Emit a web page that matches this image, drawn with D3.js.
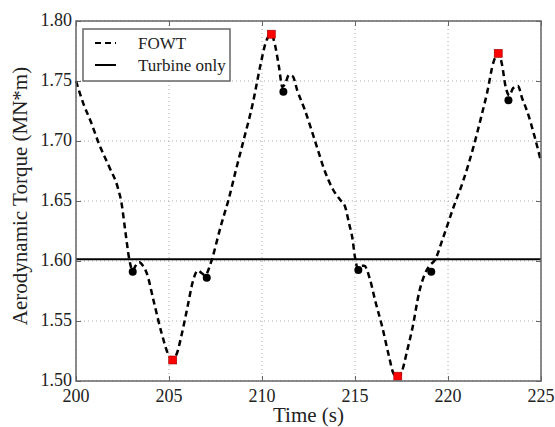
<!DOCTYPE html>
<html>
<head>
<meta charset="utf-8">
<script src="https://d3js.org/d3.v7.min.js"></script>
<style>
  body { margin: 0; background: #fff; }
  svg { display: block; }
</style>
</head>
<body>
<div id="chart"></div>
<script>
// FOWT aerodynamic torque
const time = [200.0, 200.4, 200.8, 201.25, 201.8, 202.25, 202.45, 202.65, 202.87, 203.05, 203.2, 203.4, 203.6, 203.8,
  204.2, 204.6, 205.0, 205.2, 205.4, 205.7, 206.0, 206.3, 206.55, 206.75, 206.95, 207.15, 207.3, 207.8,
  208.2, 208.6, 209.0, 209.5, 209.9, 210.2, 210.5, 210.7, 210.9, 211.1, 211.25, 211.45, 211.65, 211.9,
  212.3, 212.85, 213.4, 213.8, 214.2, 214.45, 214.7, 214.85, 215.0, 215.15, 215.35, 215.5, 215.8, 216.1,
  216.45, 216.85, 217.05, 217.3, 217.5, 217.8, 218.1, 218.45, 218.75, 219.0, 219.3, 219.75, 220.3, 220.8,
  221.35, 221.8, 222.1, 222.45, 222.7, 222.9, 223.1, 223.3, 223.5, 223.75, 224.0, 224.25, 224.65, 225.0];
const torque = [1.750, 1.731, 1.716, 1.697, 1.678, 1.661, 1.648, 1.625, 1.601, 1.592, 1.596, 1.599, 1.596, 1.590,
  1.565, 1.540, 1.521, 1.518, 1.522, 1.540, 1.562, 1.584, 1.592, 1.590, 1.588, 1.594, 1.601, 1.630,
  1.651, 1.676, 1.700, 1.731, 1.762, 1.782, 1.789, 1.780, 1.763, 1.745, 1.748, 1.755, 1.754, 1.742,
  1.726, 1.700, 1.674, 1.660, 1.651, 1.646, 1.630, 1.620, 1.603, 1.594, 1.596, 1.596, 1.585, 1.566,
  1.546, 1.519, 1.507, 1.503, 1.507, 1.525, 1.545, 1.574, 1.589, 1.596, 1.601, 1.620, 1.645, 1.666,
  1.694, 1.721, 1.740, 1.766, 1.773, 1.764, 1.745, 1.738, 1.744, 1.746, 1.735, 1.725, 1.704, 1.683];

// turbine only (constant)
const turbineOnly = 1.6015;

// extremes (red squares) and crossing points (black dots)
const peakTime = [205.2, 210.5, 217.3, 222.7];
const peakValue = [1.5175, 1.789, 1.504, 1.773];
const dotTime = [203.05, 207.03, 211.15, 215.18, 219.1, 223.25];
const dotValue = [1.591, 1.586, 1.741, 1.5925, 1.591, 1.734];

const xTicks = [200, 205, 210, 215, 220, 225];
const yTicks = [1.50, 1.55, 1.60, 1.65, 1.70, 1.75, 1.80];

const legendNames = ["FOWT", "Turbine only"];

const width = 555;
const height = 427;
const margin = { top: 21, right: 14, bottom: 46, left: 76 };
const serif = "'Liberation Serif', 'Times New Roman', Times, Tinos, 'DejaVu Serif', 'Noto Serif', serif";

const svg = d3.select("#chart")
    .append("svg")
    .attr("width", width)
    .attr("height", height)
    .attr("font-family", serif);

const x = d3.scaleLinear()
    .domain([200, 225])
    .range([margin.left, width - margin.right]);

const y = d3.scaleLinear()
    .domain([1.50, 1.80])
    .range([height - margin.bottom, margin.top]);

// grid
svg.append("g")
    .selectAll("line")
    .data(xTicks)
    .enter()
    .append("line")
    .attr("x1", d => x(d)).attr("x2", d => x(d))
    .attr("y1", margin.top).attr("y2", height - margin.bottom)
    .attr("stroke", "#aaa").attr("stroke-width", 1).attr("stroke-dasharray", "1,3");

svg.append("g")
    .selectAll("line")
    .data(yTicks)
    .enter()
    .append("line")
    .attr("x1", margin.left).attr("x2", width - margin.right)
    .attr("y1", d => y(d)).attr("y2", d => y(d))
    .attr("stroke", "#aaa").attr("stroke-width", 1).attr("stroke-dasharray", "1,3");

// axes with inward ticks
const axisColor = "#666";
const bottomAxis = svg.append("g")
    .attr("transform", `translate(0,${height - margin.bottom})`)
    .call(d3.axisTop(x).tickValues(xTicks).tickSize(5).tickFormat(""));
const topAxis = svg.append("g")
    .attr("transform", `translate(0,${margin.top})`)
    .call(d3.axisBottom(x).tickValues(xTicks).tickSize(5).tickFormat(""));
const leftAxis = svg.append("g")
    .attr("transform", `translate(${margin.left},0)`)
    .call(d3.axisRight(y).tickValues(yTicks).tickSize(5).tickFormat(""));
const rightAxis = svg.append("g")
    .attr("transform", `translate(${width - margin.right},0)`)
    .call(d3.axisLeft(y).tickValues(yTicks).tickSize(5).tickFormat(""));
[bottomAxis, topAxis, leftAxis, rightAxis].forEach(g => {
    g.select(".domain").remove();
    g.selectAll("line").attr("stroke", axisColor);
});

// tick labels
svg.append("g")
    .selectAll("text")
    .data(xTicks)
    .enter()
    .append("text")
    .attr("x", d => x(d))
    .attr("y", height - margin.bottom + 21)
    .attr("text-anchor", "middle")
    .attr("font-size", 18)
    .attr("fill", "#222")
    .text(d => d);

svg.append("g")
    .selectAll("text")
    .data(yTicks)
    .enter()
    .append("text")
    .attr("x", margin.left - 4)
    .attr("y", d => y(d) + 5)
    .attr("text-anchor", "end")
    .attr("font-size", 18)
    .attr("fill", "#222")
    .text(d => d.toFixed(2));

// turbine only line
svg.append("line")
    .attr("x1", margin.left).attr("x2", width - margin.right)
    .attr("y1", y(turbineOnly)).attr("y2", y(turbineOnly))
    .attr("stroke", "#000").attr("stroke-width", 2);

// FOWT line
const fowt = time.map((t, i) => ({ t: t, v: torque[i] }));
const line = d3.line()
    .x(d => x(d.t))
    .y(d => y(d.v))
    .curve(d3.curveMonotoneX);

svg.append("path")
    .datum(fowt)
    .attr("d", line)
    .attr("fill", "none")
    .attr("stroke", "#000")
    .attr("stroke-width", 2.5)
    .attr("stroke-dasharray", "6,4");

// markers
svg.append("g")
    .selectAll("circle")
    .data(dotTime.map((t, i) => ({ t: t, v: dotValue[i] })))
    .enter()
    .append("circle")
    .attr("cx", d => x(d.t))
    .attr("cy", d => y(d.v))
    .attr("r", 4)
    .attr("fill", "#000");

svg.append("g")
    .selectAll("rect")
    .data(peakTime.map((t, i) => ({ t: t, v: peakValue[i] })))
    .enter()
    .append("rect")
    .attr("x", d => x(d.t) - 4)
    .attr("y", d => y(d.v) - 4)
    .attr("width", 8)
    .attr("height", 8)
    .attr("fill", "#f00")
    .attr("stroke", "#900")
    .attr("stroke-width", 0.6);

// frame
svg.append("rect")
    .attr("x", margin.left)
    .attr("y", margin.top)
    .attr("width", width - margin.left - margin.right)
    .attr("height", height - margin.top - margin.bottom)
    .attr("fill", "none")
    .attr("stroke", axisColor)
    .attr("stroke-width", 1.5);

// axis titles
svg.append("text")
    .attr("x", (margin.left + width - margin.right) / 2)
    .attr("y", height - 5)
    .attr("text-anchor", "middle")
    .attr("font-size", 21)
    .attr("fill", "#222")
    .text("Time (s)");

svg.append("text")
    .attr("transform", "translate(27,196) rotate(-90)")
    .attr("text-anchor", "middle")
    .attr("font-size", 21)
    .attr("fill", "#222")
    .text("Aerodynamic Torque (MN*m)");

// legend
const legend = svg.append("g").attr("transform", "translate(83,29)");
legend.append("rect")
    .attr("width", 147)
    .attr("height", 52)
    .attr("fill", "#fff")
    .attr("stroke", axisColor)
    .attr("stroke-width", 1.5);

const legendItem = legend.selectAll(".legend-item")
    .data(legendNames)
    .enter()
    .append("g")
    .attr("class", "legend-item")
    .attr("transform", (d, i) => `translate(0,${14 + i * 22})`);

legendItem.append("line")
    .attr("x1", 12).attr("x2", 33)
    .attr("stroke", "#000")
    .attr("stroke-width", 2)
    .attr("stroke-dasharray", (d, i) => i === 0 ? "6,4" : null);

legendItem.append("text")
    .attr("x", 55)
    .attr("y", 6)
    .attr("font-size", 17)
    .attr("fill", "#222")
    .text(d => d);
</script>
</body>
</html>
